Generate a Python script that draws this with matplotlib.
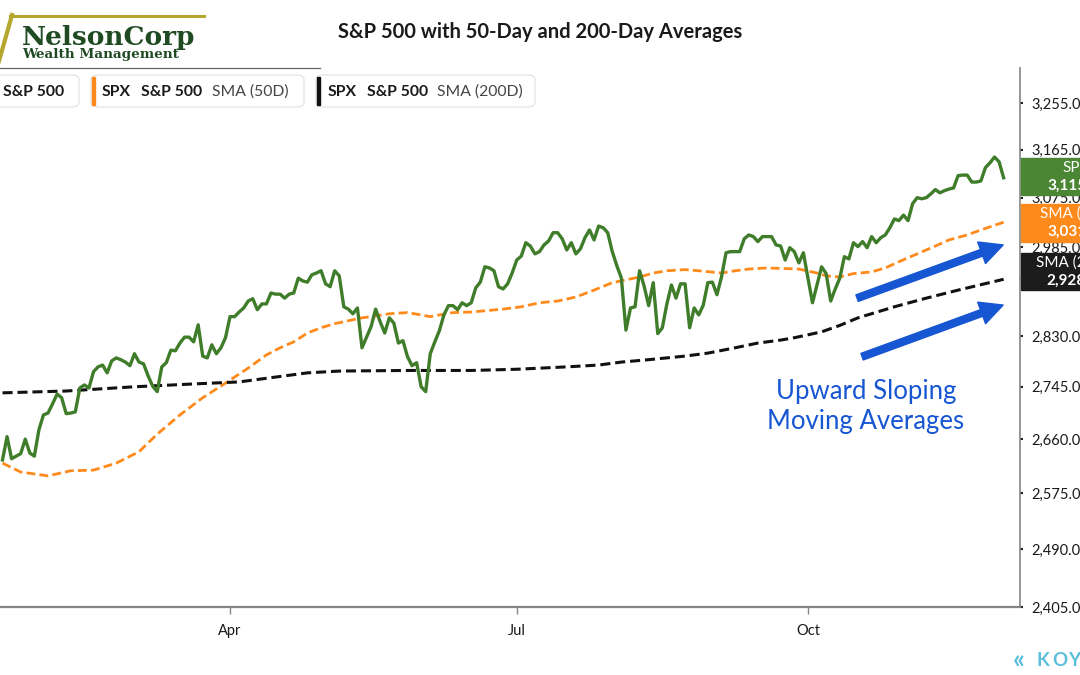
import numpy as np
import matplotlib
matplotlib.use("Agg")
import matplotlib.pyplot as plt
from matplotlib.patches import FancyBboxPatch, Rectangle, FancyArrowPatch, ArrowStyle
from matplotlib.lines import Line2D
from matplotlib.ticker import FixedLocator, NullLocator

# ---------------- data (trading sessions counted from Thu 17 Jan 2019 = 0) -------------
spx = [2627, 2664, 2629, 2633, 2637, 2660, 2638, 2633, 2675, 2699,
       2702, 2717, 2733, 2727, 2701, 2702, 2704, 2743, 2748, 2743,
       2770, 2778, 2781, 2768, 2788, 2793, 2790, 2786, 2780, 2800,
       2786, 2783, 2763, 2746, 2737, 2778, 2785, 2806, 2805, 2818,
       2828, 2828, 2820, 2849, 2796, 2793, 2815, 2800, 2810, 2827,
       2863, 2863, 2871, 2878, 2890, 2894, 2875, 2885, 2885, 2904,
       2902, 2902, 2895, 2902, 2904, 2930, 2925, 2923, 2936, 2939,
       2943, 2920, 2915, 2943, 2934, 2880, 2876, 2868, 2878, 2810,
       2828, 2846, 2876, 2854, 2835, 2861, 2852, 2818, 2822, 2795,
       2780, 2785, 2745, 2737, 2800, 2820, 2839, 2866, 2882, 2882,
       2875, 2887, 2882, 2887, 2913, 2923, 2950, 2948, 2943, 2915,
       2911, 2920, 2939, 2962, 2969, 2993, 2987, 2973, 2977, 2989,
       2996, 3011, 3011, 3000, 2980, 2993, 2973, 2982, 3002, 3016,
       2998, 3023, 3020, 3011, 2977, 2952, 2930, 2840, 2878, 2880,
       2943, 2916, 2882, 2922, 2834, 2844, 2885, 2918, 2895, 2920,
       2920, 2844, 2878, 2866, 2883, 2922, 2923, 2901, 2932, 2975,
       2977, 2977, 2977, 3000, 3007, 3004, 2995, 3004, 3004, 3004,
       2989, 2987, 2962, 2984, 2977, 2957, 2975, 2930, 2887, 2918,
       2950, 2938, 2890, 2911, 2930, 2968, 2964, 2993, 2986, 2995,
       2984, 3004, 2993, 3002, 3007, 3020, 3036, 3033, 3043, 3033,
       3064, 3075, 3073, 3075, 3082, 3090, 3084, 3088, 3091, 3093,
       3116, 3117, 3117, 3104, 3104, 3106, 3131, 3140, 3151, 3142,
       3112]

sma50_sessions = [0, 4, 10, 15, 20, 25, 30, 34, 39, 44, 49, 54, 58, 61, 64, 67,
                  70, 73, 76, 79, 81, 85, 89, 92, 94, 96, 99, 103, 110, 114,
                  118, 122, 126, 130, 134, 137, 140, 143, 146, 150, 153, 158,
                  161, 164, 168, 175, 179, 181, 184, 187, 191, 194, 197, 201,
                  205, 208, 212, 215, 220]
sma50 = [2622, 2608, 2602, 2610, 2611, 2622, 2640, 2668, 2699, 2727, 2751,
         2776, 2798, 2810, 2820, 2835, 2844, 2851, 2856, 2861, 2863, 2868,
         2870, 2866, 2863, 2866, 2870, 2871, 2876, 2880, 2887, 2890, 2897,
         2909, 2922, 2927, 2932, 2939, 2943, 2945, 2943, 2939, 2943, 2946,
         2948, 2946, 2939, 2934, 2932, 2938, 2941, 2948, 2959, 2973, 2987,
         2998, 3007, 3016, 3030]

sma200_sessions = [0, 14, 29, 43, 52, 59, 67, 74, 89, 103, 113, 124, 131, 136,
                   142, 150, 155, 161, 166, 171, 174, 180, 184, 188, 196, 203,
                   210, 220]
sma200 = [2735, 2738, 2745, 2750, 2753, 2760, 2768, 2771, 2772, 2772, 2774,
          2778, 2781, 2786, 2790, 2796, 2801, 2810, 2818, 2823, 2827, 2837,
          2848, 2861, 2880, 2895, 2909, 2928]

month_labels = ["Apr", "Jul", "Oct"]
month_sessions = [50, 113, 177]          # first sessions of Apr, Jul, Oct 2019
price_ticks = [2405, 2490, 2575, 2660, 2745, 2830, 2930, 2985, 3075, 3165, 3255]

last_labels = [("SPX", "3,115"), ("SMA (50D)", "3,031"), ("SMA (200D)", "2,928")]

# ---------------- style ----------------
W, H = 1080, 675
GREEN = "#3f7d2a"
GREEN_BOX = "#4b8634"
ORANGE = "#ff8a1c"
BLACK = "#111111"
BLUE = "#1656d2"
FONT = ["Lato", "DejaVu Sans"]
plt.rcParams["font.family"] = FONT


def fx(px):
    return px / W


def fy(py):
    return 1 - py / H


fig = plt.figure(figsize=(W / 100, H / 100), dpi=100)
fig.patch.set_facecolor("white")

ax = fig.add_axes([0, fy(607), fx(1020), (607 - 68) / H])
ax.patch.set_visible(False)

x_spx = np.arange(len(spx))
ax.plot(x_spx, spx, color=GREEN, lw=2.4, solid_joinstyle="round", zorder=4)
ax.plot(sma50_sessions, sma50, color=ORANGE, lw=2.0, linestyle=(0, (3.2, 1.5)), zorder=3)
ax.plot(sma200_sessions, sma200, color=BLACK, lw=2.2, linestyle=(0, (3.3, 1.6)), zorder=3)

ax.set_yscale("log")
ax.set_ylim(2405, 3324)
ax.set_xlim(-0.55, 223.6)

ax.yaxis.set_major_locator(FixedLocator(price_ticks))
ax.yaxis.set_minor_locator(NullLocator())
ax.set_yticklabels([f"{v:,.1f}" for v in price_ticks])
ax.yaxis.tick_right()
ax.tick_params(axis="y", which="major", length=2, width=1.5, color="#222222",
               labelsize=10.5, labelcolor="#1a1a1a", pad=6)

ax.xaxis.set_major_locator(FixedLocator(month_sessions))
ax.xaxis.set_minor_locator(NullLocator())
ax.set_xticklabels(month_labels)
ax.tick_params(axis="x", length=5, width=1, color="#888888", labelsize=10.5,
               labelcolor="#1a1a1a", pad=7)

for s in ["top", "left"]:
    ax.spines[s].set_visible(False)
ax.spines["bottom"].set_color("#858585")
ax.spines["bottom"].set_linewidth(1.6)
ax.spines["right"].set_color("#858585")
ax.spines["right"].set_linewidth(1.2)

# arrows
for (a, b) in [((187.8, 2895), (219.9, 2989)), ((188.9, 2795), (219.9, 2883))]:
    arr = FancyArrowPatch(posA=a, posB=b,
                          arrowstyle=ArrowStyle.Simple(head_length=1.65, head_width=1.65, tail_width=0.5),
                          mutation_scale=10, color=BLUE, shrinkA=0, shrinkB=0, zorder=5)
    ax.add_patch(arr)

fig.text(fx(866), fy(406), "Upward Sloping\nMoving Averages", ha="center", va="center",
         color=BLUE, fontsize=18.5, linespacing=1.25)

# ---------------- title ----------------
fig.text(0.5, fy(32), "S&P 500 with 50-Day and 200-Day Averages", ha="center", va="center",
         fontsize=14.5, fontweight="bold", color="#1a1a1a")

# ---------------- logo ----------------
GOLD = "#b5a72e"
fig.add_artist(Line2D([fx(10), fx(204)], [fy(16), fy(16)], color=GOLD, lw=2.2,
                      transform=fig.transFigure))
fig.add_artist(Line2D([fx(12), fx(-1)], [fy(15), fy(61)], color=GOLD, lw=3.0,
                      transform=fig.transFigure))
fig.text(fx(22), fy(45), "NelsonCorp", fontsize=19, fontweight="bold", color="#1f4a22",
         family="DejaVu Serif", ha="left", va="baseline")
fig.text(fx(22), fy(58), "Wealth Management", fontsize=9.7, fontweight="bold", color="#1f4a22",
         family="DejaVu Serif", ha="left", va="baseline")
fig.add_artist(Line2D([0, fx(320)], [fy(68), fy(68)], color="#666666", lw=0.9,
                      transform=fig.transFigure))

# ---------------- legend chips ----------------
def chip(x0, x1, bar_color, pieces):
    box = FancyBboxPatch((fx(x0), fy(107)), fx(x1 - x0), (107 - 75) / H,
                         boxstyle="round,pad=0,rounding_size=0.007",
                         transform=fig.transFigure, facecolor="white",
                         edgecolor="#e4e4e4", lw=0.9, zorder=6)
    fig.add_artist(box)
    if bar_color is not None:
        fig.add_artist(Rectangle((fx(x0 + 1), fy(105)), fx(3), (105 - 77) / H,
                                 transform=fig.transFigure, color=bar_color, zorder=7))
    for px, txt, bold, col in pieces:
        fig.text(fx(px), fy(92), txt, ha="left", va="center", fontsize=11.3,
                 fontweight="bold" if bold else "normal", color=col, zorder=8)


chip(-20, 79, None, [(3, "S&P 500", True, "#1a1a1a")])
chip(91, 304, ORANGE, [(102, "SPX", True, "#1a1a1a"), (141, "S&P 500", True, "#1a1a1a"),
                        (212, "SMA (50D)", False, "#444444")])
chip(316, 535, BLACK, [(328, "SPX", True, "#1a1a1a"), (367, "S&P 500", True, "#1a1a1a"),
                        (437, "SMA (200D)", False, "#444444")])

# ---------------- last value boxes ----------------
boxes = [(158, 195, GREEN_BOX, 6, (1062, 1047)),
         (204, 242, ORANGE, 6, (1040, 1047)),
         (253, 290, "#1c1c1c", -1, (1036, 1046))]
for (top, bot, col, z, (tx1, tx2)), (l1, l2) in zip(boxes, last_labels):
    fig.add_artist(Rectangle((fx(1021), fy(bot)), fx(70), (bot - top) / H,
                             transform=fig.transFigure, color=col, zorder=z))
    fig.text(fx(tx1), fy(top + 10), l1, ha="left", va="center", fontsize=11,
             color="white", zorder=9)
    fig.text(fx(tx2), fy(top + 28), l2, ha="left", va="center", fontsize=11,
             fontweight="bold", color="white", zorder=9)

# ---------------- koyfin mark ----------------
TEAL = "#5bbfdc"
fig.text(fx(1013), fy(661), "«", ha="left", va="center", fontsize=19, fontweight="bold",
         color=TEAL)
for i, ch in enumerate("KOYFIN"):
    fig.text(fx(1036 + 16 * i), fy(661), ch, ha="left", va="center", fontsize=13.5,
             fontweight="bold", color=TEAL)

fig.savefig("out.png", dpi=100, facecolor="white")
